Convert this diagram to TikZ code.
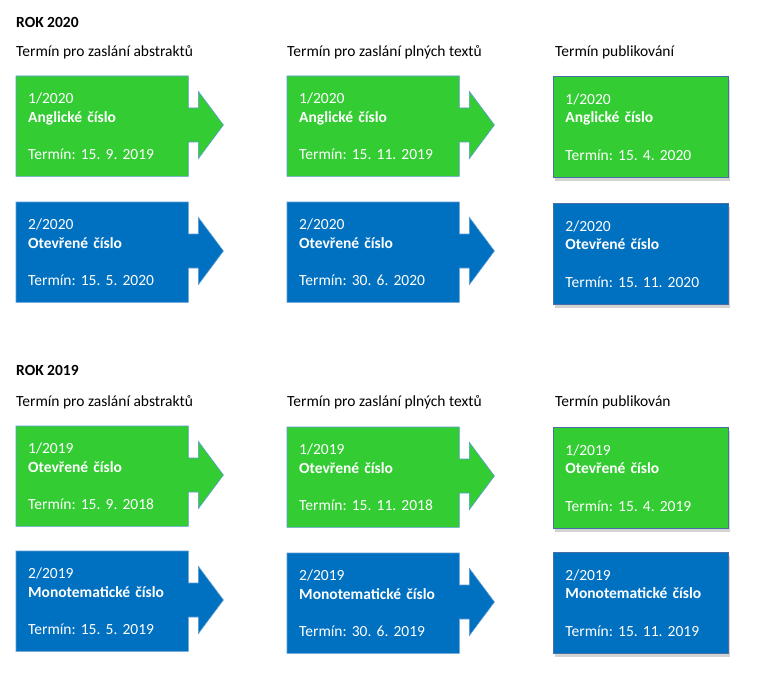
\documentclass[tikz,border=0pt]{standalone}
\usepackage{fontspec}
\setmainfont{Carlito}
\usetikzlibrary{shadows,backgrounds}
\definecolor{zelena}{HTML}{33CC33}
\definecolor{modra}{HTML}{0070C0}
\definecolor{okraj}{HTML}{5B9BD5}
\definecolor{ramecek}{HTML}{4A6FA5}
\tikzset{
	pole/.style={anchor=north west,minimum width=172pt,minimum height=100pt,text width=148pt,align=left,text=white,inner sep=0pt},
	vysledek/.style={pole,minimum width=175pt,minimum height=101pt,text width=151pt,draw=ramecek,line width=0.9pt,
		drop shadow={shadow xshift=1.5pt,shadow yshift=-3.5pt,opacity=0.35}},
	nadpis/.style={anchor=west,inner sep=0pt}
}
% obsah pole: cislo, nazev, termin
\newcommand{\obsah}[3]{#1\\\textbf{#2}\\[18.6pt]#3}
% sipka za polem
\newcommand{\sipka}[2]{%
	\begin{scope}[on background layer]
	\draw[fill=#2,draw=okraj,line width=0.6pt] (#1.south west) -- (#1.north west) -- (#1.north east) -- ++(0,32) -- ++(10,0) -- ++(0,-16.5) -- ++(25,33.5) -- ++(-25,33.5) -- ++(0,-16.5) -- ++(-10,0) -- (#1.south east) -- cycle;
	\end{scope}}
\begin{document}
\frenchspacing
\begin{tikzpicture}[x=1pt,y=-1pt,line join=miter,font=\fontsize{15.5}{18.6}\selectfont]
	\useasboundingbox (0,0) rectangle (768,682);
	% rok 2020
	\node[nadpis] (rok20) at (16,22) {\textbf{ROK 2020}};
	\node[nadpis] (hab20) at (16,52) {Termín pro zaslání abstraktů};
	\node[nadpis] (hpl20) at (287,52) {Termín pro zaslání plných textů};
	\node[nadpis] (hpu20) at (555,52) {Termín publikování};
	\node[pole] (ab20a) at (16,76) {\obsah{1/2020}{Anglické číslo}{Termín: 15. 9. 2019}};
	\sipka{ab20a}{zelena}
	\node[pole] (pl20a) at (287,76) {\obsah{1/2020}{Anglické číslo}{Termín: 15. 11. 2019}};
	\sipka{pl20a}{zelena}
	\node[vysledek,fill=zelena] (pu20a) at (553,76) {\obsah{1/2020}{Anglické číslo}{Termín: 15. 4. 2020}};
	\node[pole] (ab20b) at (16,202) {\obsah{2/2020}{Otevřené číslo}{Termín: 15. 5. 2020}};
	\sipka{ab20b}{modra}
	\node[pole] (pl20b) at (287,202) {\obsah{2/2020}{Otevřené číslo}{Termín: 30. 6. 2020}};
	\sipka{pl20b}{modra}
	\node[vysledek,fill=modra] (pu20b) at (553,203) {\obsah{2/2020}{Otevřené číslo}{Termín: 15. 11. 2020}};
	% rok 2019
	\node[nadpis] (rok19) at (16,370) {\textbf{ROK 2019}};
	\node[nadpis] (hab19) at (16,402) {Termín pro zaslání abstraktů};
	\node[nadpis] (hpl19) at (287,402) {Termín pro zaslání plných textů};
	\node[nadpis] (hpu19) at (555,402) {Termín publikován};
	\node[pole] (ab19a) at (16,426) {\obsah{1/2019}{Otevřené číslo}{Termín: 15. 9. 2018}};
	\sipka{ab19a}{zelena}
	\node[pole] (pl19a) at (287,427) {\obsah{1/2019}{Otevřené číslo}{Termín: 15. 11. 2018}};
	\sipka{pl19a}{zelena}
	\node[vysledek,fill=zelena] (pu19a) at (553,427) {\obsah{1/2019}{Otevřené číslo}{Termín: 15. 4. 2019}};
	\node[pole] (ab19b) at (16,551) {\obsah{2/2019}{Monotematické číslo}{Termín: 15. 5. 2019}};
	\sipka{ab19b}{modra}
	\node[pole] (pl19b) at (287,553) {\obsah{2/2019}{Monotematické číslo}{Termín: 30. 6. 2019}};
	\sipka{pl19b}{modra}
	\node[vysledek,fill=modra] (pu19b) at (553,552) {\obsah{2/2019}{Monotematické číslo}{Termín: 15. 11. 2019}};
\end{tikzpicture}
\end{document}
